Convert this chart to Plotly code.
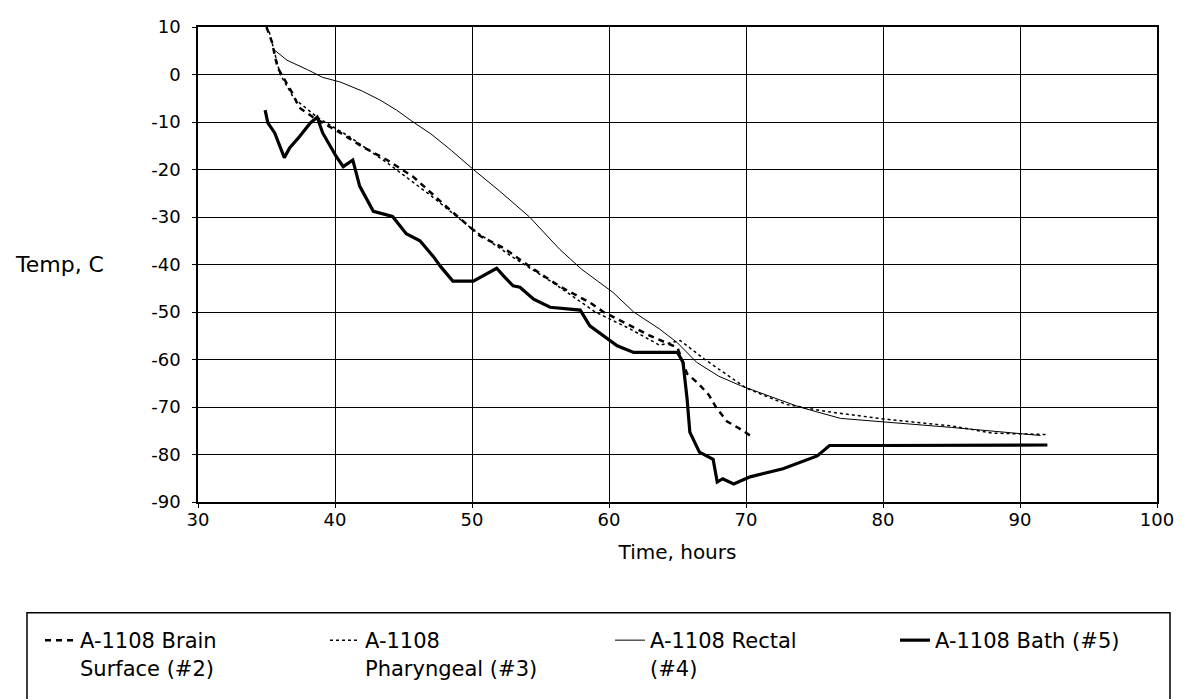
import plotly.graph_objects as go

# ---- data ----
brain_t = [35.0, 35.4, 35.8, 36.4, 36.9, 37.4, 38.4, 40.4, 42.0, 43.8, 45.7, 48.2, 50.6, 52.3,
           54.2, 56.4, 58.6, 59.6, 61.0, 63.0, 65.0, 65.7, 66.5, 67.3, 67.8, 68.6, 69.5, 70.3]
brain_v = [10.0, 6.8, 1.5, -1.6, -4.0, -7.0, -9.0, -12.3, -15.2, -18.0, -21.5, -28.0, -34.0, -36.5,
           -40.4, -44.6, -48.0, -50.0, -52.0, -55.0, -57.5, -63.0, -65.0, -67.5, -70.0, -73.0, -74.5, -76.0]

phar_t = [35.2, 36.0, 37.0, 38.7, 41.0, 44.0, 47.0, 50.0, 53.0, 56.0, 59.0, 61.5, 63.7, 65.2,
          67.0, 70.0, 73.0, 76.0, 80.0, 85.0, 88.0, 92.0]
phar_v = [9.0, 0.0, -5.0, -9.0, -13.0, -19.0, -25.5, -32.5, -38.5, -44.0, -50.0, -53.5, -57.0, -56.0,
          -60.0, -66.0, -69.5, -71.0, -72.5, -74.0, -75.5, -75.8]

rect_t = [35.6, 36.5, 38.0, 39.1, 40.4, 42.0, 43.3, 44.5, 45.7, 47.0, 48.5, 50.1, 52.0, 54.2,
          56.4, 58.0, 60.3, 61.8, 63.7, 65.0, 66.4, 68.0, 69.6, 72.0, 73.9, 76.9, 80.0, 85.0, 90.0, 91.5]
rect_v = [5.1, 3.0, 1.0, -0.6, -1.6, -3.5, -5.4, -7.5, -10.0, -12.5, -16.0, -20.0, -24.5, -30.0,
          -36.8, -41.0, -45.9, -50.0, -53.6, -56.5, -60.6, -63.5, -65.5, -68.0, -70.0, -72.4, -73.1, -74.3, -75.6, -76.0]

bath_t = [34.9, 35.1, 35.6, 36.0, 36.3, 36.7, 37.4, 38.2, 38.7, 39.1, 40.1, 40.6, 41.3, 41.8, 42.8,
          44.2, 45.2, 46.2, 47.2, 47.7, 48.6, 50.1, 51.1, 51.8, 52.3, 53.0, 53.5, 54.5, 55.7, 57.9,
          58.6, 60.6, 61.8, 65.0, 65.4, 65.7, 65.9, 66.6, 67.6, 67.9, 68.3, 69.1, 70.3, 72.7, 75.2,
          76.1, 80.0, 85.0, 90.0, 92.0]
bath_v = [-7.5, -10.2, -12.3, -15.4, -17.5, -15.4, -13.1, -10.2, -9.0, -12.3, -17.3, -19.4, -18.0, -23.5, -28.8,
          -29.9, -33.5, -35.0, -38.4, -40.4, -43.5, -43.5, -42.0, -40.8, -42.4, -44.5, -44.8, -47.3, -49.0, -49.6,
          -52.9, -57.1, -58.5, -58.5, -60.6, -68.3, -75.3, -79.5, -81.0, -85.8, -85.1, -86.2, -84.7, -83.0, -80.3,
          -78.1, -78.1, -78.1, -78.0, -78.0]

names = ["A-1108 Brain<br>Surface (#2)", "A-1108<br>Pharyngeal (#3)",
         "A-1108 Rectal<br>(#4)", "A-1108 Bath (#5)"]

x_ticks = [30, 40, 50, 60, 70, 80, 90, 100]
x_tick_labels = ["30", "40", "50", "60", "70", "80", "90", "100"]
y_ticks = [10, 0, -10, -20, -30, -40, -50, -60, -70, -80, -90]
y_tick_labels = ["10", "0", "-10", "-20", "-30", "-40", "-50", "-60", "-70", "-80", "-90"]

FONT = "DejaVu Sans"
W, H = 1185, 699
L, R, T, B = 198, 28, 27, 196
PW, PH = W - L - R, H - T - B


def px_x(p):
    return (p - L) / PW


def px_y(p):
    return (H - B - p) / PH


fig = go.Figure()
fig.add_trace(go.Scatter(x=brain_t, y=brain_v, mode="lines", name=names[0],
                         line=dict(color="black", width=2.5, dash="6px,5px")))
fig.add_trace(go.Scatter(x=phar_t, y=phar_v, mode="lines", name=names[1],
                         line=dict(color="black", width=1.5, dash="dot")))
fig.add_trace(go.Scatter(x=rect_t, y=rect_v, mode="lines", name=names[2],
                         line=dict(color="black", width=1)))
fig.add_trace(go.Scatter(x=bath_t, y=bath_v, mode="lines", name=names[3],
                         line=dict(color="black", width=3.2)))

fig.update_xaxes(range=[30, 100], tickvals=x_ticks, ticktext=x_tick_labels,
                 showgrid=True, gridcolor="black", gridwidth=1.3,
                 showline=True, linecolor="black", linewidth=1.5, mirror=True,
                 ticks="outside", ticklen=4, tickcolor="black", zeroline=False,
                 ticklabelstandoff=-3,
                 tickfont=dict(family=FONT, size=18, color="black"),
                 title=dict(text="Time, hours", font=dict(family=FONT, size=20, color="black"),
                            standoff=16))
fig.update_yaxes(range=[-90, 10], tickvals=y_ticks, ticktext=y_tick_labels,
                 showgrid=True, gridcolor="black", gridwidth=1.3,
                 showline=True, linecolor="black", linewidth=1.5, mirror=True,
                 ticks="outside", ticklen=4, tickcolor="black", zeroline=False,
                 ticklabelstandoff=8,
                 tickfont=dict(family=FONT, size=18, color="black"))

fig.add_annotation(text="Temp, C", xref="paper", yref="y", x=px_x(106), y=-40,
                   xanchor="right", yanchor="middle", showarrow=False,
                   font=dict(family=FONT, size=22, color="black"))

# legend frame
fig.add_shape(type="rect", xref="paper", yref="paper",
              x0=px_x(27), x1=px_x(1170), y0=px_y(705), y1=px_y(614),
              line=dict(color="black", width=1.5), fillcolor="rgba(0,0,0,0)")

fig.update_layout(
    width=W, height=H,
    margin=dict(l=L, r=R, t=T, b=B),
    paper_bgcolor="white", plot_bgcolor="white",
    font=dict(family=FONT, size=18, color="black"),
    showlegend=True,
    legend=dict(orientation="h", x=px_x(40), y=px_y(620),
                xanchor="left", yanchor="top", entrywidth=240, entrywidthmode="pixels",
                bgcolor="rgba(0,0,0,0)", borderwidth=0, traceorder="normal",
                font=dict(family=FONT, size=21, color="black"), valign="top"),
)

fig.write_html("out.html")
